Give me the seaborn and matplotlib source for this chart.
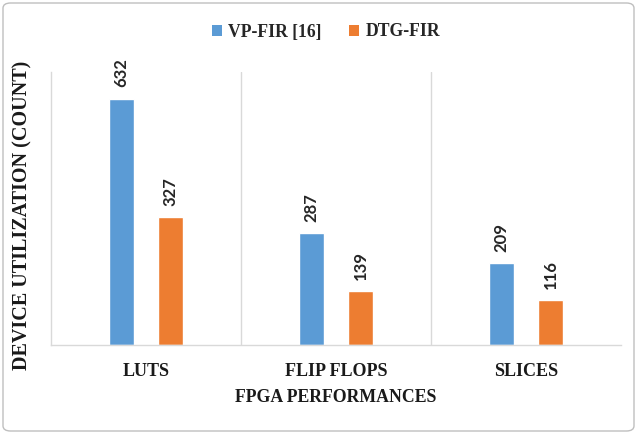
import matplotlib
matplotlib.use("Agg")
import matplotlib.pyplot as plt
import seaborn as sns
import pandas as pd
from matplotlib.patches import FancyBboxPatch, Patch

categories = ["LUTS", "FLIP FLOPS", "SLICES"]
series_names = ["VP-FIR [16]", "DTG-FIR"]
vp_fir = [632, 287, 209]
dtg_fir = [327, 139, 116]
colors = ["#5B9BD5", "#ED7D31"]

rows = []
for c, v in zip(categories, vp_fir):
    rows.append({"cat": c, "series": series_names[0], "val": v})
for c, v in zip(categories, dtg_fir):
    rows.append({"cat": c, "series": series_names[1], "val": v})
df = pd.DataFrame(rows)

sns.set_style("white")
plt.rcParams["font.family"] = ["Liberation Serif", "DejaVu Serif"]
plt.rcParams["font.weight"] = "bold"

W, H = 637, 434
fig = plt.figure(figsize=(W / 100, H / 100), dpi=100)
ax = fig.add_axes([51 / W, 1 - 345 / H, (621 - 51) / W, (345 - 72) / H])

sns.barplot(data=df, x="cat", y="val", hue="series", order=categories,
            hue_order=series_names, palette=colors, width=0.52, gap=0.5,
            ax=ax, legend=False, saturation=1)

ax.set_xlim(-0.5, 2.5)
ax.set_ylim(0, 700)
ax.set_yticks([])
ax.set_xlabel("")
ax.set_ylabel("")
for s in ["top", "right"]:
    ax.spines[s].set_visible(False)
for s in ["left", "bottom"]:
    ax.spines[s].set_color("#d9d9d9")
    ax.spines[s].set_linewidth(1.0)
for xv in [0.5, 1.5]:
    ax.axvline(xv, color="#d9d9d9", lw=1.0, zorder=0)

for cont in ax.containers:
    ax.bar_label(cont, labels=[f"{int(b.get_height())}" for b in cont],
                 rotation=90, padding=8, fontsize=12, fontweight="bold",
                 family=["Lato", "DejaVu Sans"], color="#262626")

ax.tick_params(axis="x", length=0, pad=13)
for lab in ax.get_xticklabels():
    lab.set_fontsize(13)
    lab.set_fontweight("bold")
    lab.set_color("#1a1a1a")

fig.text(336 / W, 1 - 397 / H, "FPGA PERFORMANCES", ha="center", va="center",
         fontsize=12.8, fontweight="bold", color="#1a1a1a")
fig.text(22 / W, 1 - 215 / H, "DEVICE UTILIZATION (COUNT)", ha="center",
         va="center", rotation=90, fontsize=14.5, fontweight="bold",
         color="#1a1a1a")

handles = [Patch(facecolor=c, edgecolor="none") for c in colors]
fig.legend(handles, series_names, loc="center", bbox_to_anchor=(326 / W, 1 - 32 / H),
           ncol=2, frameon=False, handlelength=0.55, handleheight=0.55,
           handletextpad=0.35, columnspacing=1.6,
           prop={"family": "Liberation Serif", "weight": "bold", "size": 12.7})

border = FancyBboxPatch((3 / W, 3 / H), 1 - 6 / W, 1 - 6 / H,
                        boxstyle="round,pad=0,rounding_size=0.012",
                        transform=fig.transFigure, fill=False,
                        edgecolor="#bfbfbf", lw=1.0)
fig.patches.append(border)

fig.savefig("out.png", dpi=100)
